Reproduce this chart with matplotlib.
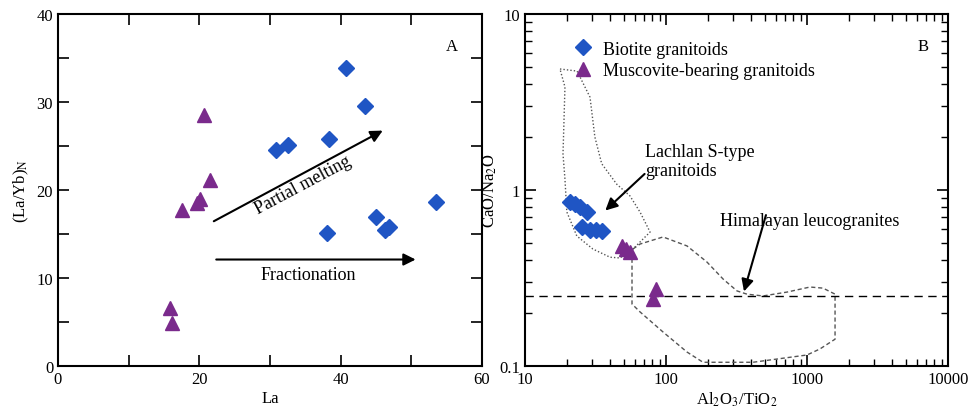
import numpy as np
import matplotlib
matplotlib.use('Agg')
import matplotlib.pyplot as plt
from matplotlib.ticker import MultipleLocator, LogLocator, NullFormatter

plt.rcParams['font.family'] = ['Liberation Serif', 'DejaVu Serif']
plt.rcParams['mathtext.fontset'] = 'stix'

# Panel A: La vs (La/Yb)N
bio_la = [30.9, 32.6, 38.3, 40.8, 43.4, 38.0, 45.0, 46.3, 46.8, 53.5]
bio_layb = [24.5, 25.1, 25.8, 33.9, 29.5, 15.1, 16.9, 15.4, 15.8, 18.6]
mus_la = [20.6, 21.5, 20.1, 19.6, 17.5, 15.8, 16.1]
mus_layb = [28.5, 21.1, 19.0, 18.5, 17.7, 6.6, 4.9]

# Panel B: Al2O3/TiO2 vs CaO/Na2O
bio_al = [20.9, 22.5, 24.5, 27.4, 25.2, 28.9, 32.0, 35.0]
bio_ca = [0.851, 0.83, 0.798, 0.753, 0.614, 0.595, 0.59, 0.587]
mus_al = [48.5, 52.0, 55.6, 84.9, 81.3]
mus_ca = [0.483, 0.46, 0.443, 0.274, 0.240]

# field outlines
lachlan_x = [17.7, 23.4, 28.9, 31.3, 35.0, 44.7, 55.6, 65.4, 77.1, 58.3, 47.2,
             40.1, 30.3, 23.3, 19.8, 19.2, 18.6, 18.9, 19.2, 17.7]
lachlan_y = [4.87, 4.74, 3.37, 2.0, 1.41, 1.08, 0.924, 0.75, 0.577, 0.462, 0.411,
             0.415, 0.462, 0.548, 0.75, 1.155, 1.60, 2.47, 3.85, 4.87]
hima_x = [58.3, 65.4, 95.3, 141, 195, 254, 319, 375, 487, 721, 1050, 1298, 1581,
          1581, 1581, 1236, 1000, 414, 183, 141, 95.3, 65.4, 57.4, 57.4, 57.4, 58.3]
hima_y = [0.462, 0.493, 0.541, 0.481, 0.390, 0.312, 0.267, 0.256, 0.250, 0.263,
          0.281, 0.277, 0.256, 0.185, 0.142, 0.125, 0.1155, 0.105, 0.105, 0.120,
          0.156, 0.203, 0.225, 0.312, 0.406, 0.462]
hima_ratio = 0.25

blue = '#1f55c4'
purple = '#7a2a8c'

fig = plt.figure(figsize=(9.76, 4.10), dpi=100)
axa = fig.add_axes([58/976, 1-367/410, 424/976, 352/410])
axb = fig.add_axes([525/976, 1-367/410, 423/976, 352/410])

# ---- panel A
axa.plot(bio_la, bio_layb, 'D', color=blue, ms=8, mec=blue)
axa.plot(mus_la, mus_layb, '^', color=purple, ms=10, mec=purple)
axa.set_xlim(0, 60)
axa.set_ylim(0, 40)
axa.xaxis.set_major_locator(MultipleLocator(20))
axa.xaxis.set_minor_locator(MultipleLocator(10))
axa.yaxis.set_major_locator(MultipleLocator(10))
axa.yaxis.set_minor_locator(MultipleLocator(5))
axa.annotate('', xy=(46.3, 26.9), xytext=(21.7, 16.3),
             arrowprops=dict(arrowstyle='-|>', color='black', lw=1.5, mutation_scale=18))
axa.annotate('', xy=(51.0, 12.1), xytext=(22.0, 12.1),
             arrowprops=dict(arrowstyle='-|>', color='black', lw=1.5, mutation_scale=18))
axa.text(34.6, 20.6, 'Partial melting', rotation=28, ha='center', va='center', fontsize=13)
axa.text(35.4, 10.4, 'Fractionation', ha='center', va='center', fontsize=13)
axa.text(55.7, 36.4, 'A', ha='center', va='center', fontsize=12)
axa.set_xlabel('La', fontsize=12, labelpad=2)
axa.set_ylabel(r'(La/Yb)$_\mathrm{N}$', fontsize=12, labelpad=4)

# ---- panel B
axb.set_xscale('log')
axb.set_yscale('log')
axb.plot(lachlan_x, lachlan_y, ls=(0, (1, 1.5)), color='#555555', lw=1)
axb.plot(hima_x, hima_y, ls=(0, (3, 2)), color='#555555', lw=1)
axb.axhline(hima_ratio, ls=(0, (6, 4)), color='black', lw=1)
axb.plot(bio_al, bio_ca, 'D', color=blue, ms=8, mec=blue, label='Biotite granitoids')
axb.plot(mus_al, mus_ca, '^', color=purple, ms=10, mec=purple,
         label='Muscovite-bearing granitoids')
axb.set_xlim(10, 10000)
axb.set_ylim(0.1, 10)
axb.xaxis.set_major_locator(LogLocator(base=10))
axb.xaxis.set_minor_locator(LogLocator(base=10, subs=np.arange(2, 10)))
axb.xaxis.set_minor_formatter(NullFormatter())
axb.yaxis.set_minor_locator(LogLocator(base=10, subs=np.arange(2, 10)))
axb.yaxis.set_minor_formatter(NullFormatter())
axb.set_xticks([10, 100, 1000, 10000])
axb.set_xticklabels(['10', '100', '1000', '10000'])
axb.set_yticks([0.1, 1, 10])
axb.set_yticklabels(['0.1', '1', '10'])
axb.annotate('', xy=(35.9, 0.746), xytext=(72.9, 1.265),
             arrowprops=dict(arrowstyle='-|>', color='black', lw=1.5, mutation_scale=18))
axb.text(71, 1.46, 'Lachlan S-type\ngranitoids', ha='left', va='center',
         fontsize=13, linespacing=1.15)
axb.annotate('', xy=(353, 0.256), xytext=(518, 0.746),
             arrowprops=dict(arrowstyle='-|>', color='black', lw=1.5, mutation_scale=18))
axb.text(241, 0.67, 'Himalayan leucogranites', ha='left', va='center', fontsize=13)
axb.text(0.941, 0.909, 'B', transform=axb.transAxes, ha='center', va='center', fontsize=12)
axb.legend(loc='upper left', bbox_to_anchor=(0.09, 0.955), frameon=False,
           handlelength=1.0, handletextpad=0.6, labelspacing=0.25, fontsize=13,
           borderaxespad=0.2)
axb.set_xlabel(r'Al$_2$O$_3$/TiO$_2$', fontsize=12, labelpad=2)
axb.set_ylabel(r'CaO/Na$_2$O', fontsize=12, labelpad=0)

for ax in (axa, axb):
    ax.tick_params(which='both', direction='in', top=True, right=True, labelsize=12)
    ax.tick_params(which='major', length=8, width=1.2)
    ax.tick_params(which='minor', length=5, width=1.0)
    for s in ax.spines.values():
        s.set_linewidth(1.5)
axa.tick_params(which='minor', length=8, width=1.2)

fig.savefig('out.png', dpi=100)
